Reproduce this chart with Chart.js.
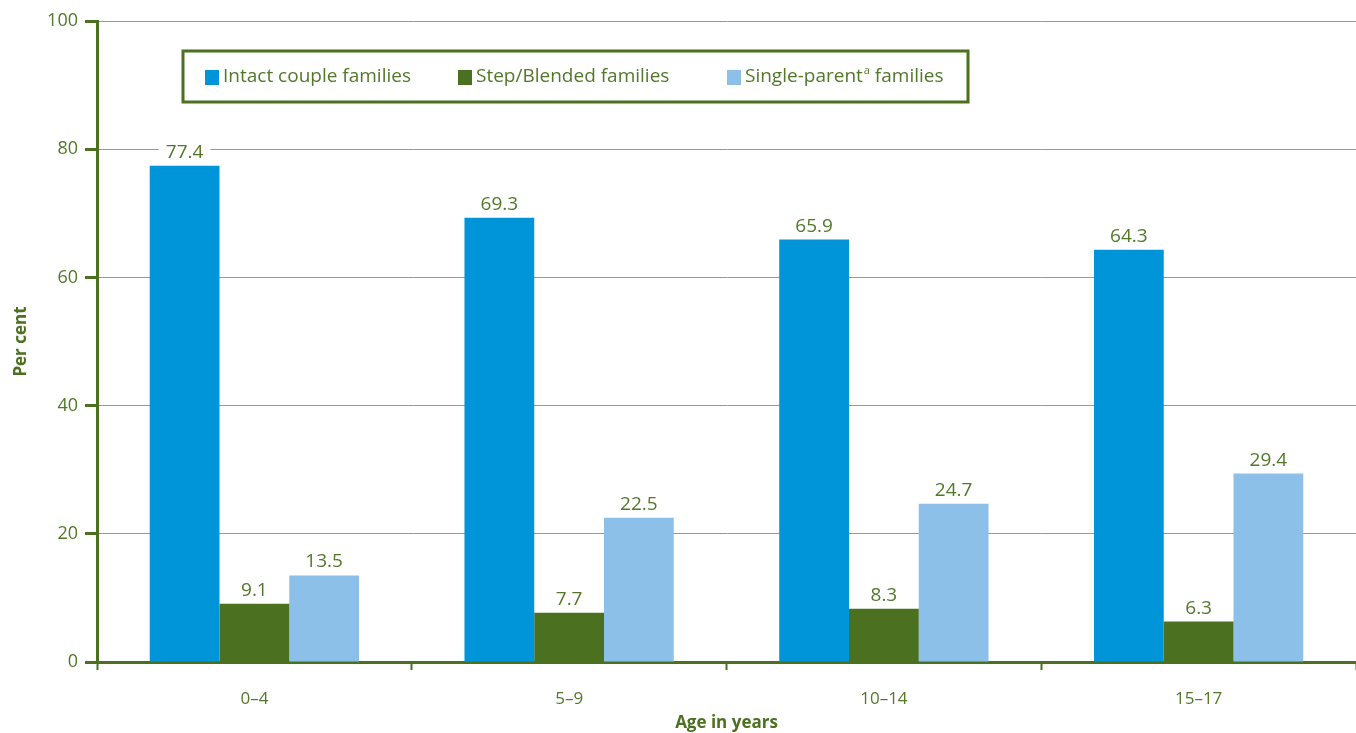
<!DOCTYPE html>
<html>
<head>
<meta charset="utf-8">
<title>Family type by age</title>
<script src="https://cdn.jsdelivr.net/npm/chart.js@4/dist/chart.umd.min.js"></script>
<style>
    html, body { margin: 0; padding: 0; background: #fff; }
    #wrap { width: 1356px; height: 733px; position: relative; }
</style>
</head>
<body>
<div id="wrap"><canvas id="familyChart"></canvas></div>
<script>
// Age groups along the x axis
const ageGroups = ['0–4', '5–9', '10–14', '15–17'];

// Per cent of children in each family type
const intactCouple = [77.4, 69.3, 65.9, 64.3];
const stepBlended = [9.1, 7.7, 8.3, 6.3];
const singleParent = [13.5, 22.5, 24.7, 29.4];

const yTicks = [0, 20, 40, 60, 80, 100];

const GREEN = '#4a7020';
const TEXT = '#52782a';
const FONT = "'Open Sans', 'DejaVu Sans', sans-serif";

const ctx = document.getElementById('familyChart').getContext('2d');

// Values above each bar, on a white patch so the grid line breaks around them
const valueLabels = {
    id: 'valueLabels',
    afterDatasetsDraw(chart) {
        const c = chart.ctx;
        c.save();
        c.font = '19px ' + FONT;
        c.textAlign = 'center';
        c.textBaseline = 'alphabetic';
        chart.data.datasets.forEach((ds, i) => {
            chart.getDatasetMeta(i).data.forEach((bar, j) => {
                const txt = ds.data[j].toFixed(1);
                const w = c.measureText(txt).width;
                const y = bar.y - 8;
                c.fillStyle = '#fff';
                c.fillRect(bar.x - w / 2 - 7, y - 17, w + 14, 21);
                c.fillStyle = TEXT;
                c.fillText(txt, bar.x, y);
            });
        });
        c.restore();
    }
};

// Boxed legend sitting inside the plot area
const boxedLegend = {
    id: 'boxedLegend',
    afterDraw(chart) {
        const c = chart.ctx;
        const left = chart.chartArea.left + 86;
        const top = chart.chartArea.top + 30;
        const starts = [22, 275, 544];
        c.save();
        c.strokeStyle = GREEN;
        c.lineWidth = 3;
        c.strokeRect(left, top, 785, 51);
        c.font = '19px ' + FONT;
        c.textBaseline = 'middle';
        chart.data.datasets.forEach((ds, i) => {
            const x = left + starts[i];
            const y = top + 26;
            c.fillStyle = ds.backgroundColor;
            c.fillRect(x, y - 7, 14, 15);
            c.fillStyle = TEXT;
            let tx = x + 18;
            const parts = ds.label.split('^');
            c.fillText(parts[0], tx, y);
            if (parts.length > 1) {
                tx += c.measureText(parts[0]).width + 1;
                c.font = '11px ' + FONT;
                c.fillText(parts[1][0], tx, y - 6);
                tx += c.measureText(parts[1][0]).width;
                c.font = '19px ' + FONT;
                c.fillText(parts[1].slice(1), tx, y);
            }
        });
        c.restore();
    }
};

new Chart(ctx, {
    type: 'bar',
    data: {
        labels: ageGroups,
        datasets: [
            { label: 'Intact couple families', data: intactCouple, backgroundColor: '#0095d9' },
            { label: 'Step/Blended families', data: stepBlended, backgroundColor: GREEN },
            { label: 'Single-parent^a families', data: singleParent, backgroundColor: '#8dc0e8' }
        ]
    },
    options: {
        responsive: true,
        maintainAspectRatio: false,
        animation: false,
        layout: { padding: { top: 21, right: 0, left: 0, bottom: 0 } },
        datasets: {
            bar: { categoryPercentage: 0.665, barPercentage: 1, borderWidth: 0 }
        },
        plugins: {
            legend: { display: false },
            tooltip: { enabled: false }
        },
        scales: {
            x: {
                afterFit(scale) { scale.height = 71; },
                grid: {
                    drawOnChartArea: false,
                    drawTicks: true,
                    tickLength: 8,
                    tickColor: GREEN,
                    tickWidth: 2,
                    offset: true
                },
                border: { color: GREEN, width: 3 },
                ticks: {
                    color: TEXT,
                    font: { family: FONT, size: 17 },
                    padding: 19
                },
                title: {
                    display: true,
                    text: 'Age in years',
                    color: GREEN,
                    font: { family: FONT, size: 17, weight: 'bold' },
                    padding: { top: 0, bottom: 0 }
                }
            },
            y: {
                min: 0,
                max: 100,
                afterFit(scale) { scale.width = 97; },
                afterBuildTicks(scale) { scale.ticks = yTicks.map(v => ({ value: v })); },
                grid: {
                    color: '#8aa86a',
                    lineWidth: 1,
                    tickLength: 12,
                    tickColor: GREEN,
                    tickWidth: 3
                },
                border: { color: GREEN, width: 3 },
                ticks: {
                    color: TEXT,
                    font: { family: FONT, size: 18 },
                    padding: 7
                },
                title: {
                    display: true,
                    text: 'Per cent',
                    color: GREEN,
                    font: { family: FONT, size: 17, weight: 'bold' },
                    padding: { top: 11, bottom: 0 }
                }
            }
        }
    },
    plugins: [valueLabels, boxedLegend]
});
</script>
</body>
</html>
